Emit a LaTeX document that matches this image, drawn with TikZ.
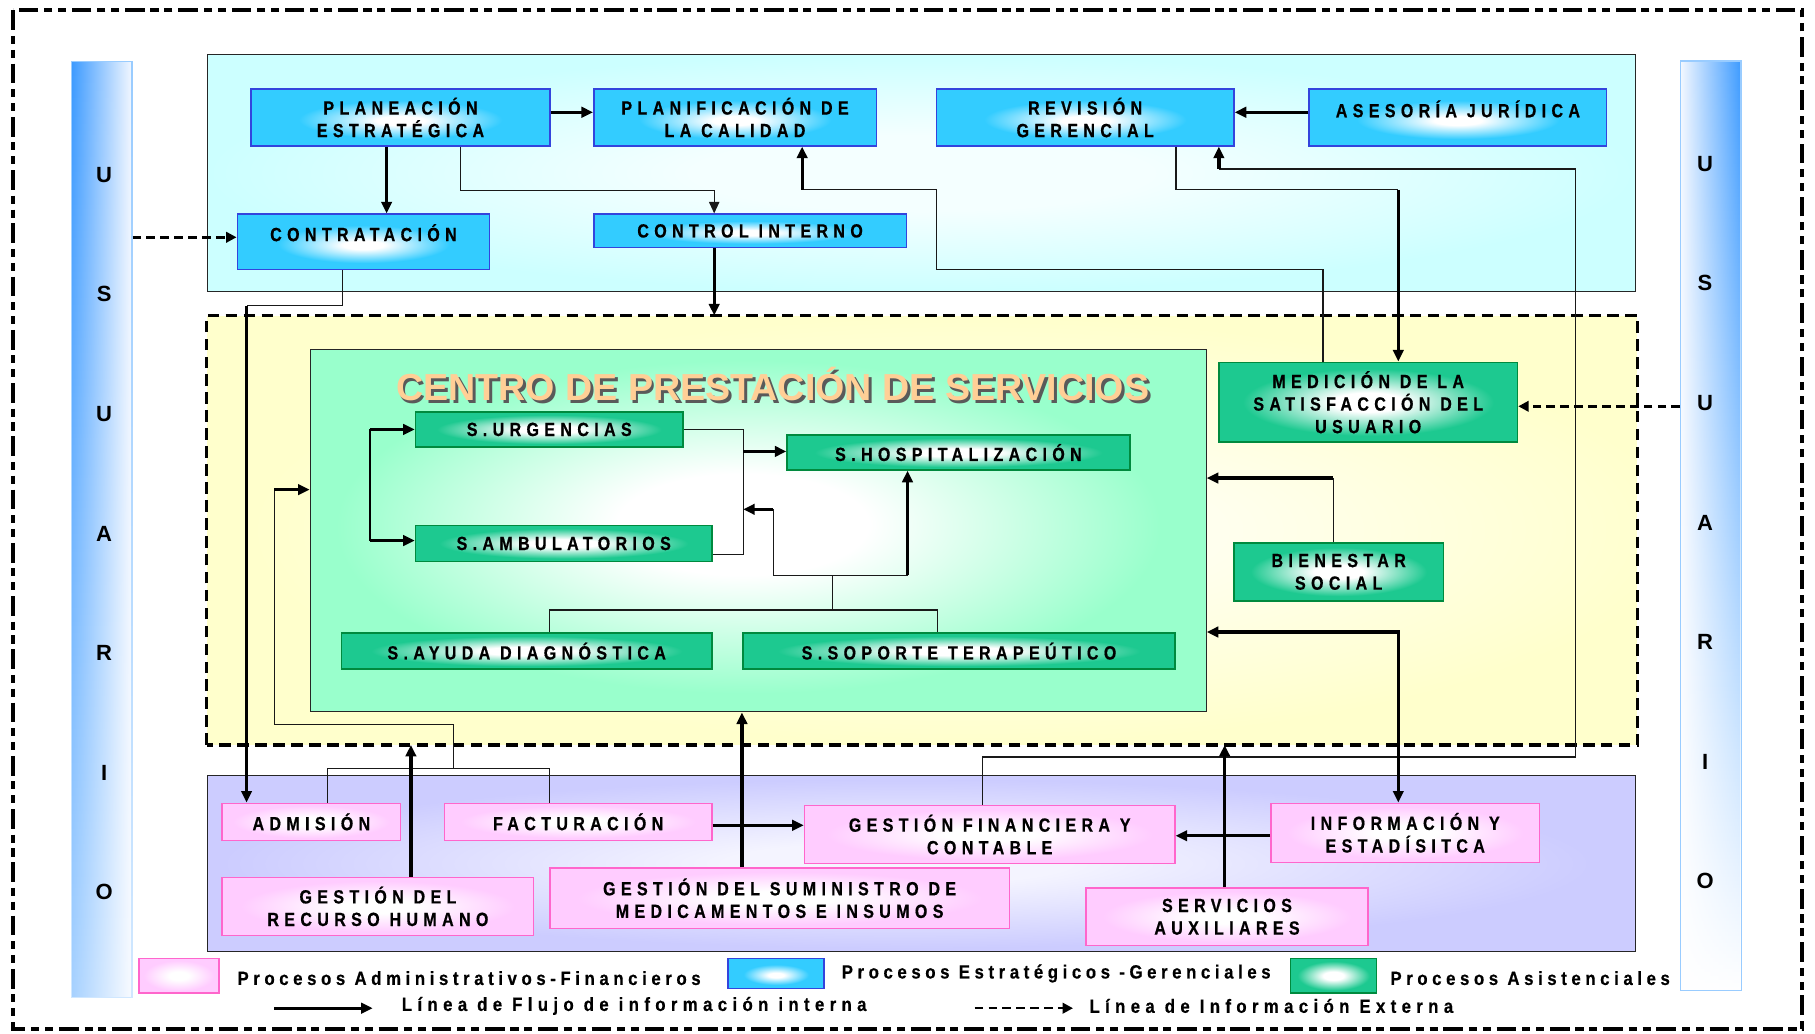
\documentclass[tikz,border=0pt]{standalone}
\usepackage{fontspec}
\setmainfont{Liberation Sans}
\newfontfamily\boxfont[LetterSpace=28,FakeStretch=0.84,FakeBold=0.6]{Liberation Sans}
\newfontfamily\legfont[LetterSpace=24,FakeStretch=0.88,FakeBold=0.5]{Liberation Sans}
\newfontfamily\legwidefont[LetterSpace=28,FakeStretch=0.88,FakeBold=0.5]{Liberation Sans}
\newfontfamily\barfont{Liberation Sans}
\usetikzlibrary{arrows.meta,fadings,shadings}

% process colours
\definecolor{stratC}{HTML}{33CCFF}
\definecolor{stratB}{HTML}{3344DD}
\definecolor{assC}{HTML}{1DC990}
\definecolor{assB}{HTML}{008A3E}
\definecolor{admC}{HTML}{FFCCFF}
\definecolor{admB}{HTML}{FF66CC}
% area colours
\definecolor{cyR}{HTML}{CCFFFF}
\definecolor{cyL}{HTML}{F4FFFF}
\definecolor{yeR}{HTML}{FFFFCC}
\definecolor{yeL}{HTML}{FFFFEE}
\definecolor{grR}{HTML}{99FFCC}
\definecolor{puR}{HTML}{CCCCFF}
\definecolor{puL}{HTML}{F4F4FF}
\definecolor{barB}{HTML}{3D9BFF}
\definecolor{barL}{HTML}{F2F7FF}
\definecolor{barE}{HTML}{99CCFF}
\definecolor{ttlC}{HTML}{FFCF96}
\definecolor{ttlS}{HTML}{5A5A5A}

\pgfdeclareradialshading{stratglow}{\pgfpoint{0bp}{-3bp}}{color(0bp)=(white);color(4bp)=(white);color(17bp)=(stratC);color(50bp)=(stratC)}
\pgfdeclareradialshading{assglow}{\pgfpoint{0bp}{0bp}}{color(0bp)=(white);color(6bp)=(white);color(21bp)=(assC);color(50bp)=(assC)}
\pgfdeclareradialshading{admglow}{\pgfpoint{0bp}{0bp}}{color(0bp)=(white);color(6bp)=(white);color(22bp)=(admC);color(50bp)=(admC)}
\pgfdeclareradialshading{cyglow}{\pgfpoint{0bp}{0bp}}{color(0bp)=(cyL);color(8bp)=(cyL);color(25bp)=(cyR);color(50bp)=(cyR)}
\pgfdeclareradialshading{yeglow}{\pgfpoint{3bp}{0bp}}{color(0bp)=(yeL);color(8bp)=(yeL);color(25bp)=(yeR);color(50bp)=(yeR)}
\pgfdeclareradialshading{grglow}{\pgfpoint{-1bp}{1bp}}{color(0bp)=(white);color(7bp)=(white);color(23bp)=(grR);color(50bp)=(grR)}
\pgfdeclareradialshading{puglow}{\pgfpoint{-1bp}{0bp}}{color(0bp)=(puL);color(6bp)=(puL);color(24bp)=(puR);color(50bp)=(puR)}

\begin{document}
\begin{tikzpicture}[x=1pt,y=-1pt,
  boxtext/.style={inner sep=0pt, align=center, font=\boxfont\bfseries\fontsize{16.5}{19.5}\selectfont},
  stratbox/.style={boxtext, draw=stratB, line width=1.3pt, shade, shading=stratglow},
  assbox/.style={boxtext, draw=assB, line width=1.3pt, shade, shading=assglow},
  admbox/.style={boxtext, draw=admB, line width=1.3pt, shade, shading=admglow},
  area/.style={draw=black!85, line width=1pt, inner sep=0pt},
  ubar/.style={draw=barE, line width=1pt, inner sep=0pt},
  barletters/.style={align=center, inner sep=0pt, font=\barfont\bfseries\fontsize{19}{103.3}\selectfont},
  legtext/.style={anchor=west, inner sep=0pt, font=\legfont\bfseries\fontsize{16.5}{18}\selectfont},
  legwide/.style={anchor=west, inner sep=0pt, font=\legwidefont\bfseries\fontsize{16.5}{18}\selectfont},
  tip/.style={-{Triangle[length=10pt,width=9pt]}},
  thk/.style={line width=2.8pt, tip},
  thn/.style={line width=1.1pt, draw=black!90},
  thnarr/.style={thn, tip},
  ext/.style={line width=2.2pt, dash pattern=on 7.5pt off 4.5pt, -{Triangle[length=9pt,width=9pt]}}
]
\useasboundingbox (0,0) rectangle (1568,893);

% outer frame
\draw[line width=3.5pt, dash pattern=on 17pt off 5pt on 7pt off 5pt on 7pt off 5pt] (11,9) rectangle (1557,889);

% USUARIO bars
\node[ubar, minimum width=52pt, minimum height=809pt, left color=barB, right color=barL] (ubl) at (88,457.5) {};
\fill[white, path fading=north, fill opacity=0.55] (ubl.south west) rectangle (ubl.north east);
\node[barletters] (ull) at (90,461) {U\\S\\U\\A\\R\\I\\O};
\node[ubar, minimum width=52pt, minimum height=802pt, left color=barL, right color=barB] (ubr) at (1478,454) {};
\fill[white, path fading=north] (ubr.south west) rectangle (ubr.north east);
\draw[barE, line width=1pt] (ubr.south west) rectangle (ubr.north east);
\node[barletters] (url) at (1473,451.5) {U\\S\\U\\A\\R\\I\\O};

% areas
\node[area, shade, shading=cyglow, minimum width=1234pt, minimum height=205pt] (cy) at (796,149.5) {};
\node[area, shade, shading=yeglow, draw=none, minimum width=1235pt, minimum height=370pt] (yel) at (796.5,458) {};
\draw[line width=3pt, dash pattern=on 10pt off 5.5pt] (yel.south west) rectangle (yel.north east);
\node[area, shade, shading=puglow, minimum width=1234pt, minimum height=152pt] (pur) at (796,746) {};
\node[area, shade, shading=grglow, minimum width=774pt, minimum height=313pt] (grn) at (655,458.5) {};

% title of the service centre
\node[inner sep=0pt, text=ttlS, font=\bfseries\fontsize{32.5}{32}\selectfont] (tsh) at (670,334.5) {CENTRO DE PRESTACIÓN DE SERVICIOS};
\node[inner sep=0pt, text=ttlC, font=\bfseries\fontsize{32.5}{32}\selectfont] (ttl) at (667.5,332) {CENTRO DE PRESTACIÓN DE SERVICIOS};

% strategic / managerial processes
\node[stratbox, minimum width=258pt, minimum height=49pt] (pe) at (346,101.5) {PLANEACIÓN\\ESTRATÉGICA};
\node[stratbox, minimum width=244pt, minimum height=49pt] (pc) at (635,101.5) {PLANIFICACIÓN DE\\LA CALIDAD};
\node[stratbox, minimum width=257pt, minimum height=49pt] (rg) at (937.5,101.5) {REVISIÓN\\GERENCIAL};
\node[stratbox, minimum width=257pt, minimum height=49pt, text depth=15pt] (aj) at (1259.5,101.5) {ASESORÍA JURÍDICA};
\node[stratbox, minimum width=218pt, minimum height=48pt, text depth=16pt] (ct) at (314,209) {CONTRATACIÓN};
\node[stratbox, minimum width=270pt, minimum height=29pt] (ci) at (648,199.5) {CONTROL INTERNO};

% care processes
\node[assbox, minimum width=231pt, minimum height=30pt] (su) at (474.5,371) {S.URGENCIAS};
\node[assbox, minimum width=296pt, minimum height=30pt] (sh) at (828,391) {S.HOSPITALIZACIÓN};
\node[assbox, minimum width=256pt, minimum height=31pt] (sa) at (487,469.5) {S.AMBULATORIOS};
\node[assbox, minimum width=320pt, minimum height=31pt] (sd) at (455,562.5) {S.AYUDA DIAGNÓSTICA};
\node[assbox, minimum width=373pt, minimum height=31pt] (st) at (828.5,562.5) {S.SOPORTE TERAPEÚTICO};
\node[assbox, minimum width=258pt, minimum height=69pt] (ms) at (1182,347.5) {MEDICIÓN DE LA\\SATISFACCIÓN DEL\\USUARIO};
\node[assbox, minimum width=181pt, minimum height=50pt] (bs) at (1156.5,494) {BIENESTAR\\SOCIAL};

% administrative / financial processes
\node[admbox, minimum width=154pt, minimum height=32pt] (ad) at (269,710) {ADMISIÓN};
\node[admbox, minimum width=231pt, minimum height=32pt] (fa) at (499.5,710) {FACTURACIÓN};
\node[admbox, minimum width=320pt, minimum height=50pt] (gf) at (855,721) {GESTIÓN FINANCIERA Y\\CONTABLE};
\node[admbox, minimum width=232pt, minimum height=51pt] (ie) at (1214,719.5) {INFORMACIÓN Y\\ESTADÍSITCA};
\node[admbox, minimum width=269pt, minimum height=50pt] (rh) at (326.5,783) {GESTIÓN DEL\\RECURSO HUMANO};
\node[admbox, minimum width=397pt, minimum height=52pt] (sm) at (673.5,776) {GESTIÓN DEL SUMINISTRO DE\\MEDICAMENTOS E INSUMOS};
\node[admbox, minimum width=244pt, minimum height=50pt] (sx) at (1060,792) {SERVICIOS\\AUXILIARES};

% junction points
\coordinate (jPC) at (693,164);
\coordinate (jRG) at (1053,146);
\coordinate (jMS) at (1208,164);
\coordinate (jAD) at (213,264);
\coordinate (jGR) at (237,423);
\coordinate (jIE) at (1208,546);
\coordinate (jBS) at (1152,413);
\coordinate (jUA) at (320,371);
\coordinate (jUB) at (320,467);
\coordinate (jHS) at (642,390);
\coordinate (jHA) at (668,440);
\coordinate (jHB) at (784,497);

% flows among strategic processes
\draw[thk] ([yshift=4.5pt]pe.east) -- ([yshift=4.5pt]pe.east -| pc.west);
\draw[thk] ([xshift=-12pt]pe.south) -- ([xshift=-12pt]pe.south |- ct.north);
\draw[thnarr] ([xshift=52pt]pe.south) -- ++(0,38) -| ([xshift=-31pt]ci.north);
\draw[thk] ([xshift=-31pt]ci.south) -- ([xshift=-31pt]ci.south |- yel.north);
\draw[thk] ([yshift=4.5pt]aj.west) -- ([yshift=4.5pt]aj.west -| rg.east);
\draw[thn] ([xshift=-39pt]ms.north) |- (809,233) |- (jPC);
\draw[thk] (jPC) -- (jPC |- pc.south);
\draw[thn] ([xshift=78.5pt]rg.south) |- (jMS);
\draw[thk] (jMS) -- (jMS |- ms.north);
\draw[thn] ([xshift=-6pt]gf.north) |- (1361,654) |- (jRG);
\draw[thk] (jRG) -- (jRG |- rg.south);

% flows towards the administrative area
\draw[thn] ([xshift=-18pt]ct.south) |- (jAD);
\draw[thk] (jAD) -- (jAD |- ad.north);
\draw[thn] ([xshift=14pt]ad.north) |- (475,664) -- ([xshift=-24.5pt]fa.north);
\draw[thn] (392,664) |- (237,626) -- (jGR);
\draw[thk] (jGR) -- (jGR -| grn.west);
\draw[thk] ([xshift=28.5pt]rh.north) -- ([xshift=28.5pt]rh.north |- yel.south);
\draw[thk] ([xshift=-32.5pt]sm.north) -- ([xshift=-32.5pt]sm.north |- grn.south);
\draw[thk] ([yshift=-3pt]fa.east) -- ([yshift=-3pt]fa.east -| gf.west);
\draw[thk] ([yshift=-2.5pt]ie.west) -- ([yshift=-2.5pt]ie.west -| gf.east);
\draw[thk] ([xshift=-2pt]sx.north) -- ([xshift=-2pt]sx.north |- yel.south);
\draw[thk, {Triangle[length=10pt,width=9pt]}-{Triangle[length=10pt,width=9pt]}] (jIE -| grn.east) -- (jIE) -- ([xshift=-6pt]ie.north);
\draw[thn] ([xshift=-4.5pt]bs.north) -- (jBS);
\draw[thk] (jBS) -- (jBS -| grn.east);

% external information from the user
\draw[ext] (ubl.east |- 0,205) -- (ct.west |- 0,205);
\draw[ext] (ubr.west |- 0,351) -- (ms.east |- 0,351);

% flows inside the service centre
\draw[line width=1.8pt] (jUA) -- (jUB);
\draw[thk] (jUA) -- (jUA -| su.west);
\draw[thk] (jUB) -- (jUB -| sa.west);
\draw[thn] (su.east) -| (642,479) -- ([yshift=-9.5pt]sa.east);
\draw[thk] (jHS) -- (jHS -| sh.west);
\draw[thn] ([xshift=20pt]sd.north) |- (810,527) -- ([xshift=-18.5pt]st.north);
\draw[thn] (719,527) -- (719,497);
\draw[thn] (jHB) -- (668,497) -- (jHA);
\draw[thk] (jHA) -- (642,440);
\draw[thk] (jHB) -- (jHB |- sh.south);

% key
\node[admbox, minimum width=69pt, minimum height=30pt] (lgA) at (154.5,843) {};
\node[legtext] (ltA) at (205,845) {Procesos Administrativos-Financieros};
\node[stratbox, minimum width=83pt, minimum height=26pt] (lgB) at (670.5,841) {};
\node[legtext] (ltB) at (727,841) {Procesos Estratégicos -Gerenciales};
\node[assbox, minimum width=74pt, minimum height=30pt] (lgC) at (1152,843) {};
\node[legtext] (ltC) at (1201,845) {Procesos Asistenciales};
\coordinate (la1) at (237,871);
\coordinate (la2) at (322,871);
\draw[thk] (la1) -- (la2);
\node[legwide] (ltD) at (347,869) {Línea de Flujo de información interna};
\coordinate (lb1) at (842,871);
\coordinate (lb2) at (927,871);
\draw[ext] (lb1) -- (lb2);
\node[legwide] (ltE) at (941,869) {Línea de Información Externa};
\end{tikzpicture}
\end{document}
